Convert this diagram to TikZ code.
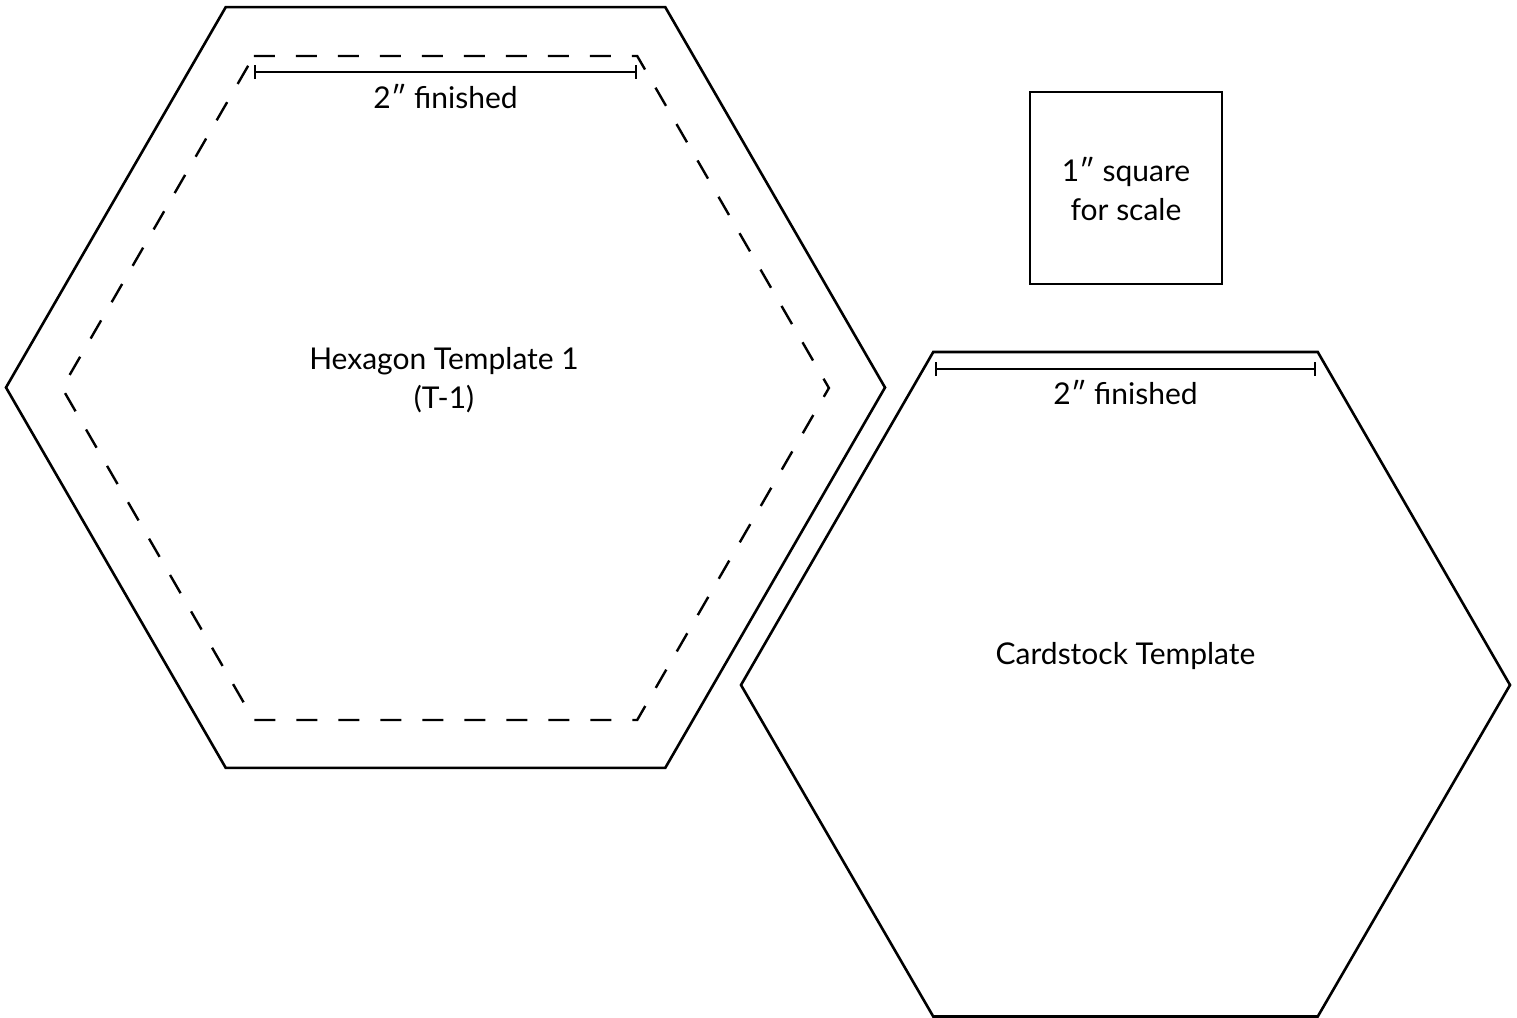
\documentclass[tikz,border=0pt]{standalone}
\usepackage{fontspec}
\setmainfont{Lato}
\usetikzlibrary{arrows.meta}
\begin{document}
\begin{tikzpicture}[x=1pt,y=-1pt,
  outline/.style={line width=2.6pt, line join=miter},
  seam/.style={line width=2.4pt, dash pattern=on 21pt off 21pt},
  dimline/.style={line width=2.4pt, {Bar[width=14pt,line width=2.4pt]}-{Bar[width=14pt,line width=2.4pt]}},
  lbl/.style={font=\fontsize{30}{39}\selectfont, align=center, inner sep=0pt}]
\useasboundingbox (0,0) rectangle (1517,1017);
% left hexagon (template 1)
\draw[outline] (885,387.5) -- (665.25,7.1) -- (225.75,7.1) -- (6,387.5) -- (225.75,767.9) -- (665.25,767.9) -- cycle;
\draw[seam] (253.8,56) -- (637.2,56) -- (828.9,388) -- (637.2,720) -- (253.8,720) -- (62.1,388) -- cycle;
\coordinate (d1a) at (254,72);
\coordinate (d1b) at (637,72);
\draw[dimline] (d1a) -- (d1b);
\node[lbl] (f1) at (445.5,97) {2″ finished};
\node[lbl] (t1) at (444,380) {Hexagon Template 1\\(T-1)};
% scale square
\draw[outline] (1030,92) rectangle (1222,284);
\node[lbl] (sq) at (1126,189) {1″ square\\for scale};
% right hexagon (cardstock)
\draw[outline] (1510,685) -- (1317.75,352) -- (933.25,352) -- (741,685) -- (933.25,1016.5) -- (1317.75,1016.5) -- cycle;
\coordinate (d2a) at (935,369);
\coordinate (d2b) at (1316,369);
\draw[dimline] (d2a) -- (d2b);
\node[lbl] (f2) at (1125.5,393) {2″ finished};
\node[lbl] (ct) at (1125.5,656) {Cardstock Template};
\end{tikzpicture}
\end{document}
